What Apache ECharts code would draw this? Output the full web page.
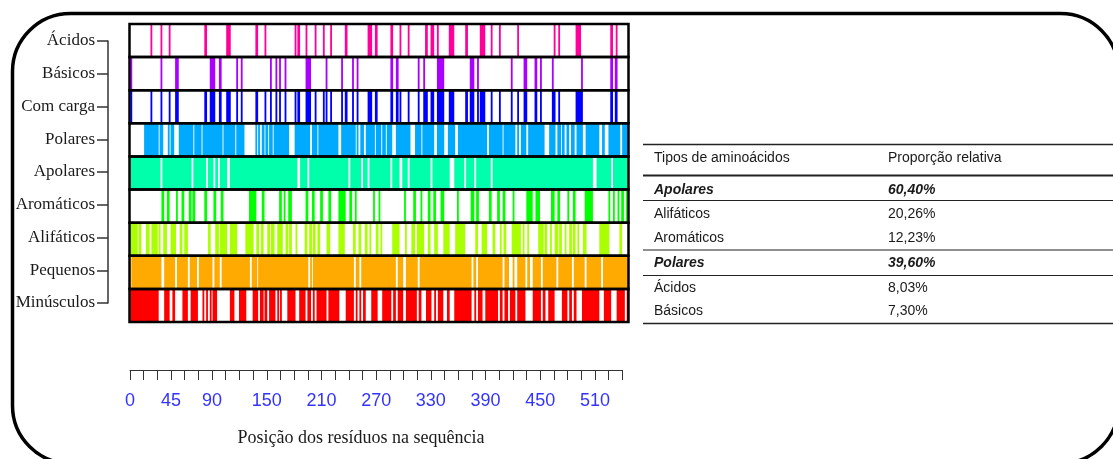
<!DOCTYPE html>
<html>
<head>
<meta charset="utf-8">
<script src="https://cdn.jsdelivr.net/npm/echarts@6/dist/echarts.min.js"></script>
<style>
  html, body { margin: 0; padding: 0; background: #fff; }
  #chart { width: 1113px; height: 459px; }
</style>
</head>
<body>
<div id="chart"></div>
<script>
// faixas (de cima para baixo)
const TRACKS = ['Ácidos', 'Básicos', 'Com carga', 'Polares', 'Apolares', 'Aromáticos', 'Alifáticos', 'Pequenos', 'Minúsculos']
const TRACK_COLORS = ['#ff0099', '#aa00ff', '#0000ff', '#00aaff', '#00ffaa', '#00ff00', '#aaff00', '#ffaa00', '#ff0000']
const SEQ_LENGTH = 547

// intervalos [início, fim] das posições marcadas em cada faixa
const ACIDOS = [[23,25],[34,36],[43,45],[82,85],[106,111],[138,141],[148,150],[181,183],[184,187],[193,195],[203,205],[212,214],[220,222],[236,239],[261,266],[269,272],[286,289],[296,298],[305,307],[324,327],[330,334],[337,339],[350,356],[368,371],[384,390],[396,398],[405,407],[425,427],[465,467],[470,472],[489,495],[527,530],[533,535]]
const BASICOS = [[1,3],[34,36],[50,54],[88,94],[98,101],[117,119],[122,124],[154,156],[160,162],[164,166],[170,172],[193,199],[215,217],[232,234],[244,246],[249,251],[286,289],[292,295],[316,318],[322,324],[337,345],[373,378],[381,383],[418,420],[432,436],[444,447],[450,452],[463,465],[495,497],[527,530],[532,535]]
const COM_CARGA = [[1,3],[23,25],[34,36],[43,45],[50,54],[82,85],[88,94],[98,101],[106,111],[117,119],[122,124],[138,141],[148,150],[154,156],[160,162],[164,166],[170,172],[181,183],[184,187],[193,199],[203,205],[212,214],[215,217],[220,222],[232,234],[236,239],[244,246],[249,251],[261,266],[269,272],[286,289],[292,295],[296,298],[305,307],[316,318],[322,327],[330,334],[337,345],[350,356],[368,371],[373,378],[381,383],[384,390],[396,398],[405,407],[418,420],[425,427],[432,436],[444,447],[450,452],[463,467],[470,472],[489,497],[527,530],[532,535]]
const POLARES = [[16,32],[33,37],[42,44],[45,49],[54,70],[71,79],[80,102],[103,116],[117,126],[138,140],[141,143],[145,148],[149,152],[153,157],[158,175],[181,198],[200,206],[207,229],[232,248],[249,251],[253,257],[259,269],[270,276],[277,281],[282,288],[292,308],[313,320],[321,334],[337,345],[349,357],[360,392],[394,409],[410,423],[425,427],[429,435],[437,455],[460,467],[469,473],[474,477],[479,482],[484,488],[490,497],[500,515],[518,521],[525,538],[540,547]]
const APOLARES = [[0,34],[36,68],[70,84],[86,92],[94,97],[99,107],[110,184],[187,195],[197,240],[242,254],[256,261],[263,286],[288,296],[299,305],[307,330],[332,351],[356,367],[369,378],[380,396],[398,508],[512,528],[530,547]]
const AROMATICOS = [[35,38],[41,44],[51,53],[57,60],[65,68],[69,72],[82,85],[92,95],[100,103],[131,139],[145,148],[164,167],[169,171],[174,178],[193,196],[200,203],[209,212],[218,221],[229,237],[241,244],[247,249],[267,269],[273,275],[301,303],[311,314],[319,321],[327,330],[333,336],[341,345],[359,361],[374,378],[380,383],[394,397],[403,406],[409,412],[420,422],[435,442],[445,450],[462,466],[469,472],[480,482],[486,489],[499,508],[525,527],[530,532],[535,537],[539,542],[544,546]]
const ALIFATICOS = [[1,9],[10,13],[18,22],[24,31],[32,34],[37,41],[45,51],[55,58],[60,64],[86,89],[94,98],[99,107],[110,118],[127,136],[139,142],[144,147],[151,154],[155,159],[162,168],[171,174],[175,178],[182,184],[192,195],[197,200],[201,204],[206,209],[216,220],[229,236],[245,248],[251,254],[258,261],[263,265],[270,273],[275,277],[288,296],[302,304],[309,313],[315,323],[327,330],[334,338],[344,351],[357,368],[379,382],[386,392],[398,401],[406,408],[410,413],[419,429],[431,433],[436,438],[448,454],[455,458],[461,463],[466,470],[471,474],[477,479],[482,485],[486,489],[491,493],[497,501],[515,526],[537,540]]
const PEQUENOS = [[0,1],[2,35],[38,50],[52,64],[66,74],[76,91],[93,99],[101,132],[134,140],[141,196],[198,200],[201,246],[248,252],[254,292],[294,300],[303,316],[318,375],[377,380],[382,409],[411,416],[420,422],[425,434],[436,439],[442,451],[453,468],[470,485],[487,499],[501,517],[519,547]]
const MINUSCULOS = [[0,32],[38,44],[47,50],[58,64],[67,75],[80,82],[84,86],[88,90],[91,96],[110,115],[120,128],[135,141],[143,147],[148,151],[153,160],[162,164],[165,167],[173,182],[186,193],[195,199],[201,203],[205,216],[218,230],[237,246],[248,250],[252,254],[256,259],[265,272],[277,287],[289,292],[294,300],[303,315],[317,320],[325,331],[334,336],[338,344],[348,351],[356,375],[378,380],[382,387],[390,404],[406,409],[411,415],[417,423],[425,434],[442,451],[453,456],[459,466],[474,480],[482,485],[487,490],[496,515],[520,528],[534,543],[545,547]]

const TRACK_DATA = [ACIDOS, BASICOS, COM_CARGA, POLARES, APOLARES, AROMATICOS, ALIFATICOS, PEQUENOS, MINUSCULOS]

// eixo de posições
const AXIS_MAX = 540
const AXIS_STEP = 15
const AXIS_LABELS = [0, 45, 90, 150, 210, 270, 330, 390, 450, 510]
const AXIS_TITLE = 'Posição dos resíduos na sequência'

// tabela
const TABLE_HEAD = ['Tipos de aminoácidos', 'Proporção relativa']
const TABLE_NAMES = ['Apolares', 'Alifáticos', 'Aromáticos', 'Polares', 'Ácidos', 'Básicos']
const TABLE_VALUES = ['60,40%', '20,26%', '12,23%', '39,60%', '8,03%', '7,30%']
const TABLE_GROUP = [true, false, false, true, false, false]

const SERIF = '"Liberation Serif", "DejaVu Serif", serif'
const SANS = '"Liberation Sans", Arial, sans-serif'

const stripeData = TRACK_DATA.flatMap((list, t) => list.map(([s, e]) => [t, s, e]))
const frameData = TRACKS.map((_, i) => [i, 0, SEQ_LENGTH])

function bandRect(api) {
  const t = api.value(0)
  const a = api.coord([api.value(1), t])
  const b = api.coord([api.value(2), t])
  const h = api.size([0, 1])[1]
  return { x: a[0], y: a[1] - h / 2, width: b[0] - a[0], height: h }
}

function renderStripe(params, api) {
  return { type: 'rect', shape: bandRect(api), style: { fill: TRACK_COLORS[api.value(0)] } }
}

function renderFrame(params, api) {
  return { type: 'rect', shape: bandRect(api), style: { fill: null, stroke: '#000', lineWidth: 2.5 } }
}

// --- tabela à direita ---
const TX0 = 643, TX1 = 1113, C1 = 654, C2 = 888
const ROW_Y = [190, 214.5, 238.5, 263, 288, 311]
const tableGraphic = []
const hline = (y, w) => tableGraphic.push({
  type: 'line', shape: { x1: TX0, y1: y, x2: TX1, y2: y },
  style: { stroke: '#222', lineWidth: w }, silent: true,
})
hline(144.5, 1.5)
hline(175.5, 2)
hline(200.5, 1.2)
hline(250, 1.2)
hline(275.5, 1.2)
hline(323.5, 1.5)
const txt = (x, y, s, bold) => tableGraphic.push({
  type: 'text', x, y,
  style: {
    text: s, fill: '#1a1a1a', font: (bold ? 'italic bold ' : '') + '14px ' + SANS,
    verticalAlign: 'middle', align: 'left',
  },
})
txt(C1, 158, TABLE_HEAD[0], false)
txt(C2, 158, TABLE_HEAD[1], false)
TABLE_NAMES.forEach((n, i) => {
  txt(C1, ROW_Y[i], n, TABLE_GROUP[i])
  txt(C2, ROW_Y[i], TABLE_VALUES[i], TABLE_GROUP[i])
})

const chart = echarts.init(document.getElementById('chart'))

const option = {
  backgroundColor: '#fff',
  animation: false,
  grid: [
    { left: 129.5, width: 499, top: 24, height: 298 },
    { left: 108, width: 10, top: 41, height: 262 },
    { left: 130, width: 492.3, top: 300, height: 70 },
  ],
  xAxis: [
    { type: 'value', gridIndex: 0, min: 0, max: SEQ_LENGTH, show: false },
    { type: 'value', gridIndex: 1, show: false },
    {
      type: 'value', gridIndex: 2, min: 0, max: AXIS_MAX, interval: AXIS_STEP,
      axisLine: { lineStyle: { color: '#333', width: 1 } },
      axisTick: { length: 10, lineStyle: { color: '#333', width: 1 } },
      splitLine: { show: false },
      axisLabel: {
        margin: 22, color: '#3333ff', fontSize: 18, fontFamily: SANS,
        formatter: v => (AXIS_LABELS.includes(v) ? String(v) : ''),
      },
    },
  ],
  yAxis: [
    { type: 'category', gridIndex: 0, data: TRACKS, inverse: true, show: false },
    {
      type: 'value', gridIndex: 1, min: 0, max: TRACKS.length - 1, interval: 1, inverse: true,
      axisLine: { show: true, lineStyle: { color: '#333', width: 1.5 } },
      axisTick: { show: true, length: 11, lineStyle: { color: '#333', width: 1.5 } },
      splitLine: { show: false },
      axisLabel: {
        margin: 13, color: '#1a1a1a', fontSize: 17, fontFamily: SERIF,
        formatter: v => TRACKS[v],
      },
    },
    { type: 'value', gridIndex: 2, show: false },
  ],
  graphic: [
    {
      type: 'rect', shape: { x: 12.5, y: 13.5, width: 1106, height: 450, r: 58 },
      style: { fill: null, stroke: '#000', lineWidth: 3.5 }, silent: true, z: 10,
    },
    {
      type: 'text', x: 361, y: 438,
      style: {
        text: AXIS_TITLE, fill: '#1a1a1a', font: '18px ' + SERIF,
        align: 'center', verticalAlign: 'middle',
      },
    },
    ...tableGraphic,
  ],
  series: [
    {
      type: 'custom', xAxisIndex: 0, yAxisIndex: 0,
      renderItem: renderStripe, data: stripeData,
      encode: { x: [1, 2], y: 0 }, clip: true, z: 2,
    },
    {
      type: 'custom', xAxisIndex: 0, yAxisIndex: 0,
      renderItem: renderFrame, data: frameData,
      encode: { x: [1, 2], y: 0 }, z: 3,
    },
  ],
}

chart.setOption(option)
</script>
</body>
</html>
